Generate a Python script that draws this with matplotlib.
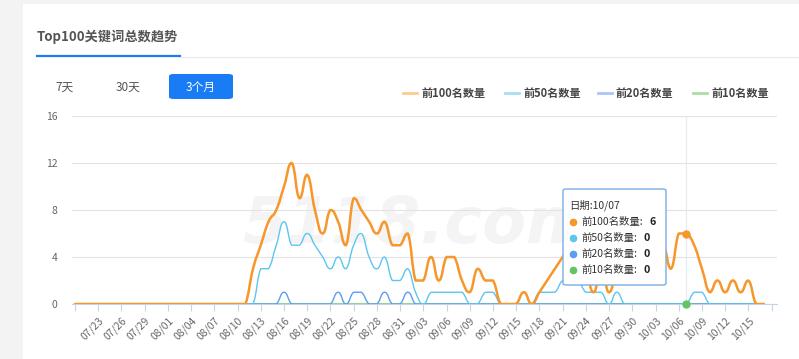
import numpy as np
import matplotlib
matplotlib.use("Agg")
import matplotlib.pyplot as plt
from matplotlib.path import Path
from matplotlib.patches import PathPatch, FancyBboxPatch, Rectangle
from datetime import date, timedelta

plt.rcParams['font.family'] = ['Noto Sans CJK SC', 'DejaVu Sans']

W, H = 799, 359

# ---- data, one value per day from 07/20 ----
start = date(2019, 7, 20)
n_days = 90
dates = [(start + timedelta(days=i)).strftime("%m/%d") for i in range(n_days)]

top100 = [0]*23 + [3, 5, 7, 8, 10, 12, 9, 11, 8, 6, 8, 7, 5, 9, 8, 7, 6, 7, 5, 5,
                   6, 2, 2, 4, 2, 4, 4, 2, 1, 3, 2, 2, 0, 0, 0, 1, 0, 1, 2, 3,
                   4, 5, 4, 3, 1, 3, 1, 3, 4, 5, 4, 3, 4, 5, 3, 6, 6, 5, 3, 1,
                   2, 1, 2, 1, 2, 0, 0]
top50 = [0]*24 + [3, 3, 5, 7, 5, 5, 6, 5, 4, 3, 4, 3, 5, 6, 4, 3, 4, 2, 2, 3,
                  1, 0, 1, 1, 1, 1, 1, 0, 0, 1, 1, 0, 0, 0, 0, 0, 1, 1, 1, 2,
                  2, 2, 1, 1, 1, 0, 1, 0, 0, 0, 0, 0, 0, 0, 0, 0, 1, 1] + [0]*8
top20 = [0]*n_days
for d in [27, 34, 36, 37, 40, 43]:
    top20[d] = 1
top10 = [0]*n_days

names = ['前100名数量', '前50名数量', '前20名数量', '前10名数量']
colors = ['#f7962a', '#5cc6ee', '#5d9cf0', '#62c462']
legend_colors = ['#facd8e', '#a6def4', '#a9c7f4', '#a9dea2']
hover = 79  # 10/07


def px(x, y):
    return x / W, 1 - y / H


def smooth_patch(xs, ys, color, lw, z):
    xs = np.asarray(xs, float)
    ys = np.asarray(ys, float)
    n = len(xs)
    c0, c1 = [], []
    for i in range(n):
        a, b = max(i - 1, 0), min(i + 1, n - 1)
        vx, vy = xs[b] - xs[a], ys[b] - ys[a]
        y0 = min(max(ys[i] - vy * 0.25, min(ys[a], ys[i])), max(ys[a], ys[i]))
        y1 = min(max(ys[i] + vy * 0.25, min(ys[b], ys[i])), max(ys[b], ys[i]))
        c0.append((xs[i] - vx * 0.25, y0))
        c1.append((xs[i] + vx * 0.25, y1))
    verts = [(xs[0], ys[0])]
    codes = [Path.MOVETO]
    for i in range(n - 1):
        verts += [c1[i], c0[i + 1], (xs[i + 1], ys[i + 1])]
        codes += [Path.CURVE4] * 3
    return PathPatch(Path(verts, codes), fill=False, edgecolor=color, lw=lw,
                     zorder=z, capstyle='round', joinstyle='round')


fig = plt.figure(figsize=(W / 100, H / 100), dpi=100, facecolor='#f3f3f3')
fig.patches.append(Rectangle(px(23, 359), (W - 23) / W, 355 / H, transform=fig.transFigure,
                             facecolor='white', edgecolor='none', zorder=-5))

# title and tabs
fig.text(*px(37, 37), 'Top100关键词总数趋势', fontsize=9.5, fontweight='bold',
         color='#555555', va='center', ha='left')
fig.add_artist(plt.Line2D([37 / W, 180 / W], [1 - 56 / H] * 2, color='#1a7cf4', lw=1.6))
fig.add_artist(plt.Line2D([180 / W, 1], [1 - 56.5 / H] * 2, color='#e8e8e8', lw=0.8))
fig.text(*px(65, 87), '7天', fontsize=8.5, color='#555555', va='center', ha='center')
fig.text(*px(128, 87), '30天', fontsize=8.5, color='#555555', va='center', ha='center')
fig.patches.append(FancyBboxPatch(px(169, 99), 64 / W, 25 / H, boxstyle='round,pad=0,rounding_size=0.006',
                                  transform=fig.transFigure, facecolor='#1a7cf4', edgecolor='none'))
fig.text(*px(201, 87), '3个月', fontsize=8.5, color='white', va='center', ha='center')

# legend
leg_x = [403, 505, 598, 693]
for lx, name, lc in zip(leg_x, names, legend_colors):
    fig.add_artist(plt.Line2D([lx / W, (lx + 14) / W], [1 - 93 / H] * 2, color=lc, lw=2))
    fig.text(*px(lx + 18, 93), name, fontsize=8, fontweight='bold', color='#444444',
             va='center', ha='left')

# axes
ax = fig.add_axes([72 / W, (H - 304) / H, 705 / W, 188 / H])
ax.set_facecolor('none')
x = np.arange(n_days)
ax.set_xlim((72 - 75) / 7.74, (777 - 75) / 7.74)
ax.set_ylim(0, 16)
ax.set_yticks([0, 4, 8, 12, 16])
ax.grid(axis='y', color='#e3e3e3', lw=0.8)
ax.set_axisbelow(True)
for s in ['top', 'right', 'left']:
    ax.spines[s].set_visible(False)
ax.spines['bottom'].set_color('#c8d3e3')
ax.tick_params(axis='y', length=0, labelsize=7.5, labelcolor='#666666', pad=10.5)
ticks = list(range(0, 91, 3))
ax.set_xticks(ticks)
ax.set_xticklabels([(start + timedelta(days=t)).strftime("%m/%d") if 0 < t < 90 else '' for t in ticks],
                   rotation=45, ha='right', rotation_mode='anchor')
ax.tick_params(axis='x', length=5, color='#c8d3e3', labelsize=7.5, labelcolor='#666666', pad=3)

# watermark
ax.text(0.49, 0.42, '5118.com', transform=ax.transAxes, fontsize=46, style='italic',
        fontweight='bold', color='#f4f4f4', ha='center', va='center', zorder=0,
        family='DejaVu Sans')

# hover line
ax.axvline(hover, color='#e4eaf4', lw=0.8, zorder=1)

series = [top100, top50, top20, top10]
widths = [1.8, 1.0, 1.0, 1.0]
for k in [3, 2, 1, 0]:
    ax.add_patch(smooth_patch(x, series[k], colors[k], widths[k], 3 + (3 - k)))

ax.plot([hover], [top100[hover]], 'o', color=colors[0], ms=5, zorder=8, clip_on=False)
ax.plot([hover], [top10[hover]], 'o', color=colors[3], ms=5, zorder=8, clip_on=False)

# tooltip
fig.patches.append(FancyBboxPatch(px(563, 285), 103 / W, 96 / H, boxstyle='round,pad=0,rounding_size=0.004',
                                  transform=fig.transFigure, facecolor='white', edgecolor='#79aee8',
                                  lw=1.0, zorder=10))
fig.text(*px(569, 205), '日期:' + dates[hover], fontsize=7.5, color='#333333', va='center',
         ha='left', zorder=11)
for j, (name, c, s) in enumerate(zip(names, colors, series)):
    yy = 222 + j * 16
    fig.add_artist(plt.Line2D([573 / W], [1 - yy / H], marker='o', ms=4.5, color=c,
                              lw=0, zorder=11))
    fig.text(*px(581, yy), name + ':', fontsize=7.5, color='#333333', va='center',
             ha='left', zorder=11)
    fig.text(*px(650 if j == 0 else 643, yy), str(s[hover]), fontsize=7.8, fontweight='bold',
             color='#222222', va='center', ha='left', zorder=11)

fig.savefig('out.png', dpi=100, facecolor=fig.get_facecolor())
